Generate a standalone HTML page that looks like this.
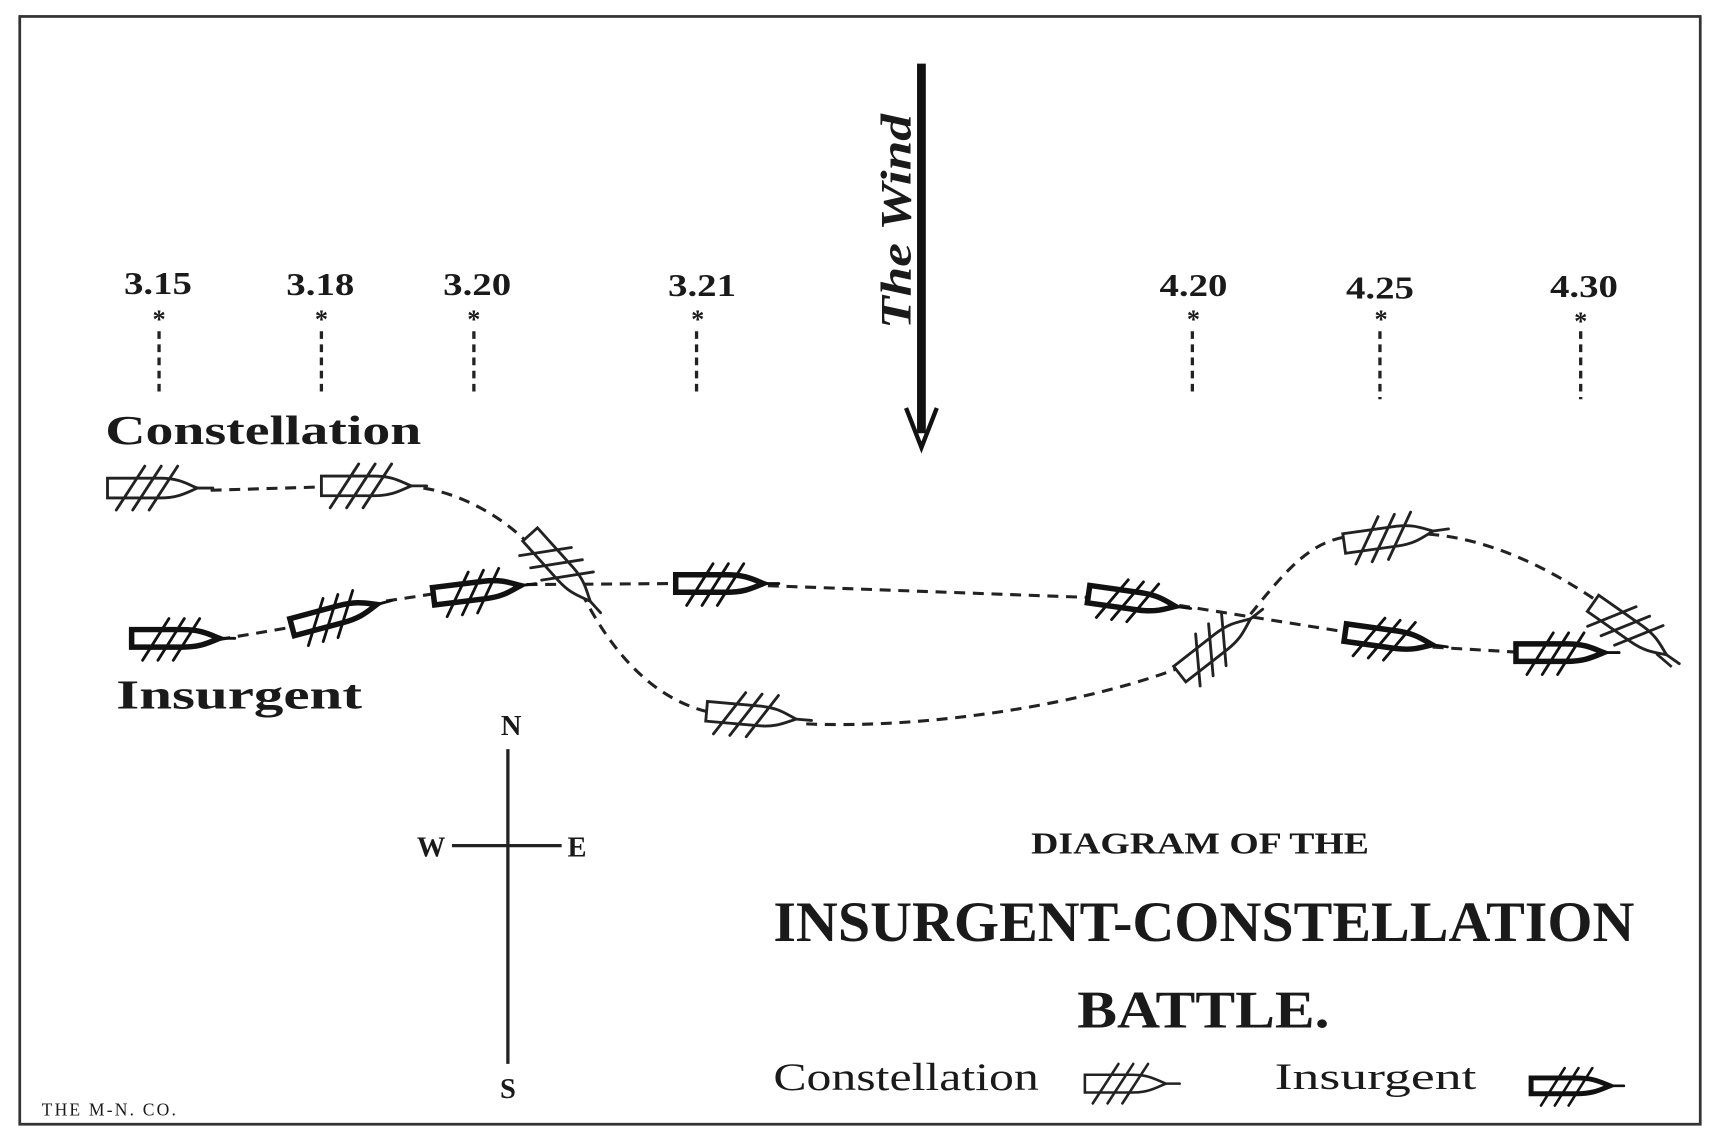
<!DOCTYPE html>
<html><head><meta charset="utf-8"><style>
html,body{margin:0;padding:0;background:#fff;}
svg{display:block;}
text{font-family:"Liberation Serif",serif;fill:#1a1a1a;}
</style></head><body>
<svg width="1720" height="1133" viewBox="0 0 1568 1033" preserveAspectRatio="none" xmlns="http://www.w3.org/2000/svg">
<defs>
<g id="cs" fill="none" stroke="#222" stroke-width="2.6" stroke-linecap="round">
<path d="M-40,-9 L8,-9 C25,-9 32,-4 42,0 C32,4 25,9 8,9 L-40,9 Z" fill="#fff"/>
<line x1="42" y1="0" x2="56" y2="0"/>
<line x1="-32" y1="20" x2="-6" y2="-20"/>
<line x1="-17" y1="20" x2="9" y2="-20"/>
<line x1="-2" y1="20" x2="24" y2="-20"/>
</g>
<g id="is" fill="none" stroke="#111" stroke-linecap="round">
<path d="M-38,-8 L8,-8 C25,-8 32,-4 42,0 C32,4 25,8 8,8 L-38,8 Z" fill="#fff" stroke-width="5"/>
<line x1="42" y1="0" x2="56" y2="0" stroke-width="2.6"/>
<line x1="-28" y1="20" x2="-4" y2="-18" stroke-width="2.6"/>
<line x1="-14" y1="20" x2="10" y2="-18" stroke-width="2.6"/>
<line x1="0" y1="20" x2="24" y2="-18" stroke-width="2.6"/>
</g>
</defs>
<rect x="18" y="15" width="1532" height="1010" fill="none" stroke="#333" stroke-width="2.5"/>

<g font-weight="bold" font-size="29" text-anchor="middle">
<text x="144" y="268" textLength="62" lengthAdjust="spacingAndGlyphs">3.15</text>
<text x="292" y="269" textLength="62" lengthAdjust="spacingAndGlyphs">3.18</text>
<text x="435" y="269" textLength="62" lengthAdjust="spacingAndGlyphs">3.20</text>
<text x="640" y="270" textLength="62" lengthAdjust="spacingAndGlyphs">3.21</text>
<text x="1088" y="270" textLength="62" lengthAdjust="spacingAndGlyphs">4.20</text>
<text x="1258" y="272" textLength="62" lengthAdjust="spacingAndGlyphs">4.25</text>
<text x="1444" y="271" textLength="62" lengthAdjust="spacingAndGlyphs">4.30</text>
</g>
<g font-size="24" text-anchor="middle" font-weight="bold">
<text x="145" y="299">*</text><text x="293" y="299">*</text><text x="432" y="299">*</text><text x="636" y="299">*</text>
<text x="1088" y="299">*</text><text x="1259" y="299">*</text><text x="1441" y="301">*</text>
</g>
<g stroke="#222" stroke-width="3" stroke-dasharray="7,5">
<line x1="145" y1="302" x2="145" y2="362"/><line x1="293" y1="302" x2="293" y2="362"/>
<line x1="432" y1="302" x2="432" y2="362"/><line x1="635" y1="302" x2="635" y2="360"/>
<line x1="1087" y1="302" x2="1087" y2="362"/><line x1="1258" y1="302" x2="1258" y2="364"/>
<line x1="1441" y1="302" x2="1441" y2="364"/>
</g>

<line x1="840" y1="58" x2="840" y2="395" stroke="#111" stroke-width="8"/>
<path d="M826,372 L840,408 L854,372" fill="none" stroke="#111" stroke-width="4"/>
<text transform="translate(830,202) rotate(-90)" text-anchor="middle" font-size="40" font-style="italic" font-weight="bold" textLength="196" lengthAdjust="spacingAndGlyphs">The Wind</text>

<text x="96" y="405" font-size="38" font-weight="bold" textLength="288" lengthAdjust="spacingAndGlyphs">Constellation</text>
<text x="106" y="646" font-size="38" font-weight="bold" textLength="224" lengthAdjust="spacingAndGlyphs">Insurgent</text>

<g fill="none" stroke="#222" stroke-width="2.8" stroke-dasharray="10,7">
<path d="M192,447 L292,444"/>
<path d="M386,445 C430,452 470,480 490,505"/>
<path d="M530,540 C560,600 600,640 650,650"/>
<path d="M735,660 C850,665 1000,640 1085,605"/>
<path d="M1140,560 C1180,510 1200,490 1240,488"/>
<path d="M1302,487 C1370,492 1430,530 1462,552"/>
<path d="M200,583 L265,572"/>
<path d="M352,548 L398,541"/>
<path d="M480,533 L620,532"/>
<path d="M700,534 L1000,545"/>
<path d="M1075,552 L1232,577"/>
<path d="M1306,590 L1390,595"/>
</g>
<line x1="1510" y1="596" x2="1524" y2="608" stroke="#222" stroke-width="2.5"/>

<use href="#cs" transform="translate(138,445)"/>
<use href="#cs" transform="translate(333,443)"/>
<use href="#cs" transform="translate(510,517) rotate(48)"/>
<use href="#cs" transform="translate(684,652) rotate(5)"/>
<use href="#cs" transform="translate(1107,590) rotate(-38)"/>
<use href="#cs" transform="translate(1265,490) rotate(-8)"/>
<use href="#cs" transform="translate(1485,573) rotate(35)"/>
<use href="#is" transform="translate(158,582)"/>
<use href="#is" transform="translate(303,562) rotate(-15)"/>
<use href="#is" transform="translate(433,539) rotate(-7)"/>
<use href="#is" transform="translate(654,532)"/>
<use href="#is" transform="translate(1030,547) rotate(8)"/>
<use href="#is" transform="translate(1264,582) rotate(8)"/>
<use href="#is" transform="translate(1420,595)"/>

<line x1="463" y1="683" x2="463" y2="970" stroke="#222" stroke-width="3"/>
<line x1="412" y1="771" x2="512" y2="771" stroke="#222" stroke-width="3"/>
<g font-size="26" font-weight="bold" text-anchor="middle">
<text x="466" y="670">N</text><text x="393" y="781">W</text><text x="526" y="781">E</text><text x="463" y="1001">S</text>
</g>

<g font-weight="bold">
<text x="940" y="778" font-size="28" textLength="308" lengthAdjust="spacingAndGlyphs">DIAGRAM OF THE</text>
<text x="705" y="858" font-size="52" textLength="785" lengthAdjust="spacingAndGlyphs">INSURGENT-CONSTELLATION</text>
<text x="982" y="937" font-size="48" textLength="230" lengthAdjust="spacingAndGlyphs">BATTLE.</text>
</g>
<text x="705" y="994" font-size="36" textLength="242" lengthAdjust="spacingAndGlyphs">Constellation</text>
<text x="1162" y="993" font-size="34" textLength="184" lengthAdjust="spacingAndGlyphs">Insurgent</text>
<use href="#cs" transform="translate(1025,988) scale(0.9)"/>
<use href="#is" transform="translate(1430,990) scale(0.9)"/>
<text x="38" y="1017" font-family="Liberation Sans,sans-serif" font-size="16" letter-spacing="2">THE M-N. CO.</text>
</svg>
</body></html>
